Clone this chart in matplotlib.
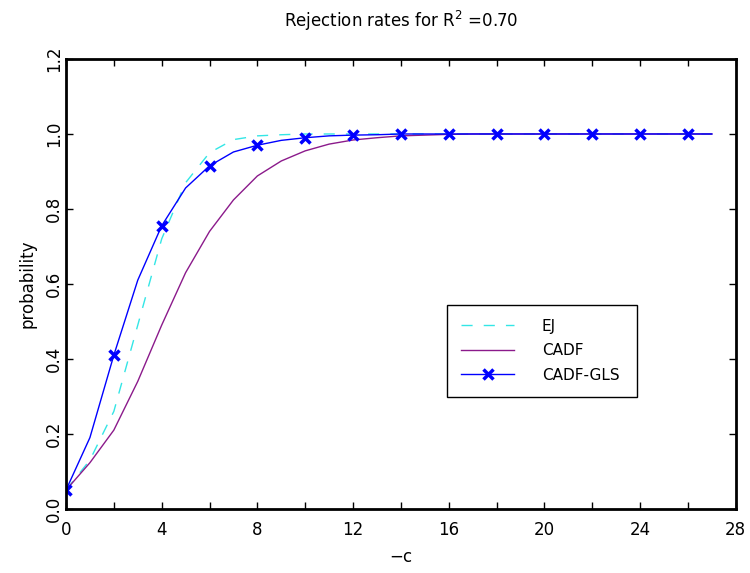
import numpy as np
import matplotlib.pyplot as plt
from matplotlib.ticker import MultipleLocator

# -c grid (lines drawn at every integer, markers on even values)
c_vals = list(range(0, 28))

ej = [0.05, 0.13, 0.26, 0.49, 0.72, 0.87, 0.95, 0.985, 0.995, 0.998,
      1.0, 1.0, 1.0, 1.0, 1.0, 1.0, 1.0, 1.0, 1.0, 1.0,
      1.0, 1.0, 1.0, 1.0, 1.0, 1.0, 1.0, 1.0]
cadf = [0.05, 0.123, 0.21, 0.34, 0.49, 0.63, 0.74, 0.824, 0.888, 0.928,
        0.955, 0.973, 0.984, 0.99, 0.995, 0.997, 0.999, 1.0, 1.0, 1.0,
        1.0, 1.0, 1.0, 1.0, 1.0, 1.0, 1.0, 1.0]
cadf_gls = [0.05, 0.19, 0.41, 0.61, 0.755, 0.856, 0.915, 0.952, 0.97, 0.983,
            0.99, 0.995, 0.997, 0.998, 1.0, 1.0, 1.0, 1.0, 1.0, 1.0,
            1.0, 1.0, 1.0, 1.0, 1.0, 1.0, 1.0, 1.0]

fig = plt.figure(figsize=(7.5, 5.73), dpi=100)
ax = fig.add_axes([0.088, 0.112, 0.893, 0.785])

ax.plot(c_vals, ej, color="#33E6E6", linestyle=(0, (8, 8)), lw=1.0, label="EJ")
ax.plot(c_vals, cadf, color="#8B1A8B", lw=1.0, label="CADF")
ax.plot(c_vals, cadf_gls, color="#0000FF", lw=1.0, marker="x", markevery=2,
        markersize=7, markeredgewidth=2.5, label="CADF-GLS")

ax.set_xlim(0, 28)
ax.set_ylim(0, 1.2)
ax.xaxis.set_major_locator(MultipleLocator(4))
ax.xaxis.set_minor_locator(MultipleLocator(2))
ax.yaxis.set_major_locator(MultipleLocator(0.2))
ax.yaxis.set_major_formatter(plt.FormatStrFormatter("%.1f"))
ax.tick_params(which="both", direction="in", top=True, right=True,
               length=5, width=1, labelsize=12)
ax.tick_params(axis="x", pad=9)
ax.tick_params(axis="y", pad=2)
for lbl in ax.get_yticklabels():
    lbl.set_rotation(90)
    lbl.set_va("center")

for s in ax.spines.values():
    s.set_linewidth(2)

ax.set_xlabel("$-$c", fontsize=12, labelpad=6)
ax.set_ylabel("probability", fontsize=12, labelpad=6)
ax.set_title("Rejection rates for R$^2$ =0.70", fontsize=12, pad=23)

leg = ax.legend(loc="upper left", bbox_to_anchor=(0.569, 0.453, 0.284, 0.0),
                mode="expand", borderaxespad=0, fancybox=False, framealpha=1,
                edgecolor="black", fontsize=11, handlelength=3.5, borderpad=0.9,
                labelspacing=0.62, handletextpad=1.8)
leg.get_frame().set_linewidth(1.0)

fig.savefig("out.png", dpi=100)
